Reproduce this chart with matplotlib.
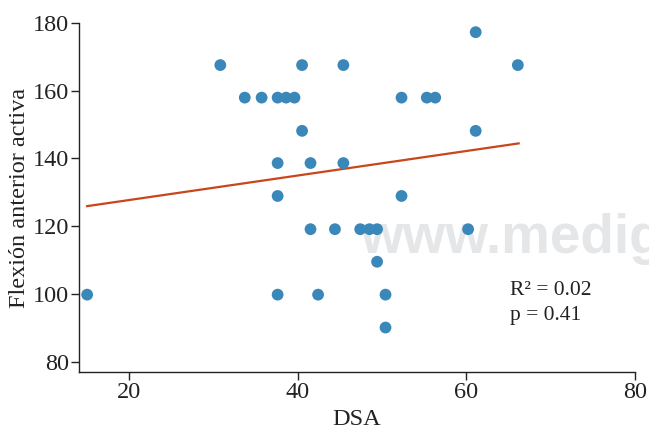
import numpy as np
import matplotlib
matplotlib.use("Agg")
import matplotlib.pyplot as plt

plt.rcParams['font.family'] = ['Liberation Serif', 'DejaVu Serif']

# data
dsa = [15.0, 30.8, 33.7, 35.7, 37.6, 38.6, 39.6, 40.5, 40.5, 37.6, 41.5,
       37.6, 37.6, 41.5, 42.4, 44.4, 45.4, 45.4, 47.4, 48.5, 49.4, 49.4,
       50.4, 50.4, 52.3, 52.3, 55.3, 56.3, 60.2, 61.1, 61.1, 66.1]
flexion = [99.8, 167.5, 157.9, 157.9, 157.9, 157.9, 157.9, 167.5, 148.1,
           138.6, 138.6, 128.9, 99.8, 119.1, 99.8, 119.1, 167.5, 138.6,
           119.1, 119.1, 119.1, 109.5, 99.8, 90.1, 157.9, 128.9, 157.9,
           157.9, 119.1, 177.2, 148.1, 167.5]

fit_x = [15.0, 66.2]
fit_y = [125.9, 144.4]

x_ticks = [20, 40, 60, 80]
y_ticks = [80, 100, 120, 140, 160, 180]

fig = plt.figure(figsize=(6.49, 4.32), dpi=100)
ax = fig.add_axes([0.1213, 0.1382, 0.8571, 0.8093])

# watermark behind the data
ax.text(0.555, 0.414, "www.medigraphic.org.mx", transform=fig.transFigure,
        family="Liberation Sans", fontweight="bold", fontsize=39.5,
        color="#e5e6e8", zorder=1, clip_on=False)

ax.scatter(dsa, flexion, s=72, color="#3a87b9", edgecolors="none", zorder=3)
ax.plot(fit_x, fit_y, color="#c9461b", linewidth=1.6, zorder=2)

ax.text(65.2, 99.7, "R² = 0.02", fontsize=15.5, color="#222222", va="baseline")
ax.text(65.2, 92.3, "p = 0.41", fontsize=15.5, color="#222222", va="baseline")

ax.set_xlim(14, 80)
ax.set_ylim(76.9, 180)
ax.set_xticks(x_ticks)
ax.set_yticks(y_ticks)
ax.set_xlabel("DSA", fontsize=17.5, color="#222222", labelpad=4)
ax.set_ylabel("Flexión anterior activa", fontsize=17.5, color="#222222", labelpad=2)

for side in ["top", "right"]:
    ax.spines[side].set_visible(False)
for side in ["left", "bottom"]:
    ax.spines[side].set_color("#222222")
    ax.spines[side].set_linewidth(1.0)
ax.tick_params(direction="out", length=6, width=1.0, colors="#222222",
               labelsize=17.5, pad=1)

fig.savefig("out.png", dpi=100)
